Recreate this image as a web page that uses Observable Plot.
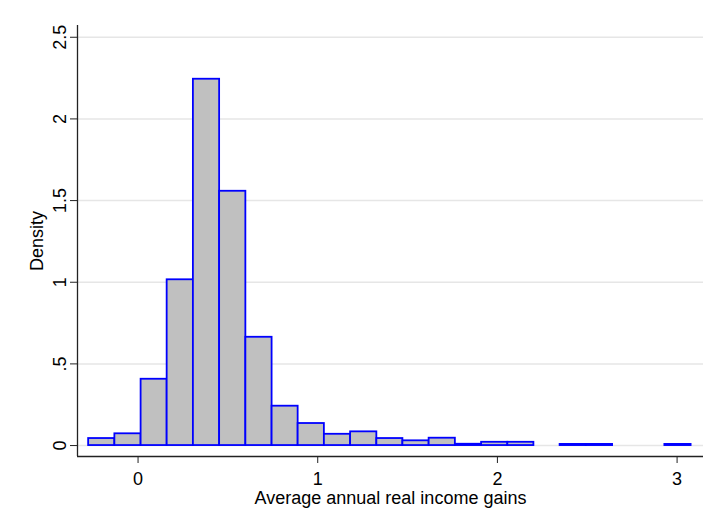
<!DOCTYPE html>
<html><head><meta charset="utf-8">
<script src="https://cdn.jsdelivr.net/npm/d3@7"></script>
<script src="https://cdn.jsdelivr.net/npm/@observablehq/plot@0.6"></script>
<style>body{margin:0;background:#fff;}</style>
</head><body><div id="chart"></div>
<script>
// Histogram bin edges (24 edges -> 23 bins)
const binEdges = [-0.275, -0.129, 0.017, 0.162, 0.308, 0.454, 0.600, 0.746, 0.891, 1.037, 1.183, 1.329, 1.474, 1.620, 1.766, 1.912, 2.058, 2.203, 2.349, 2.495, 2.641, 2.787, 2.932, 3.078];
// Density per bin
const density = [0.043, 0.072, 0.406, 1.015, 2.243, 1.557, 0.663, 0.241, 0.135, 0.069, 0.084, 0.043, 0.029, 0.045, 0.008, 0.020, 0.020, 0, 0.007, 0.007, 0, 0, 0.007];
const yTicks = [0, 0.5, 1, 1.5, 2, 2.5];
const yTickLabels = ["0", ".5", "1", "1.5", "2", "2.5"];
const xTicks = [0, 1, 2, 3];
const xTitle = "Average annual real income gains";
const yTitle = "Density";

const bins = density.map((d, i) => ({x1: binEdges[i], x2: binEdges[i + 1], density: d})).filter(b => b.density > 0);
const xDomain = [-0.337, 3.147];
const yDomain = [-0.067, 2.572];
const font = "'Liberation Sans', Arial, Helvetica, sans-serif";

const chart = Plot.plot({
  width: 717, height: 523,
  marginLeft: 77, marginRight: 14, marginTop: 25, marginBottom: 67,
  x: {domain: xDomain},
  y: {domain: yDomain},
  style: {fontFamily: font, background: "#fff", color: "#000"},
  marks: [
    Plot.gridY(yTicks, {stroke: "#e6e6e6", strokeOpacity: 1, strokeWidth: 1.5}),
    Plot.rectY(bins, {x1: "x1", x2: "x2", y1: 0, y2: "density", fill: "#c0c0c0", stroke: "#0000ff", strokeWidth: 1.8}),
    Plot.ruleX([xDomain[0]], {stroke: "#222", strokeWidth: 1.3}),
    Plot.ruleY([yDomain[0]], {stroke: "#222", strokeWidth: 1.3}),
    Plot.axisX({ticks: xTicks, tickSize: 7, tickPadding: 9, fontSize: 18, label: null, tickFormat: d => String(d), stroke: "#222"}),
    Plot.axisY({ticks: yTicks, tickSize: 7, tickFormat: () => "", label: null, stroke: "#222"}),
    Plot.text(yTicks, {y: d => d, frameAnchor: "left", dx: -12, rotate: -90, text: (d, i) => yTickLabels[i], lineAnchor: "bottom", textAnchor: "middle", fontSize: 18}),
    Plot.text([yTitle], {text: d => d, frameAnchor: "left", dx: -35, rotate: -90, lineAnchor: "bottom", textAnchor: "middle", fontSize: 18}),
    Plot.text([xTitle], {text: d => d, frameAnchor: "bottom", dy: 35, lineAnchor: "top", textAnchor: "middle", fontSize: 18})
  ]
});
document.getElementById("chart").appendChild(chart);
</script>
</body></html>
